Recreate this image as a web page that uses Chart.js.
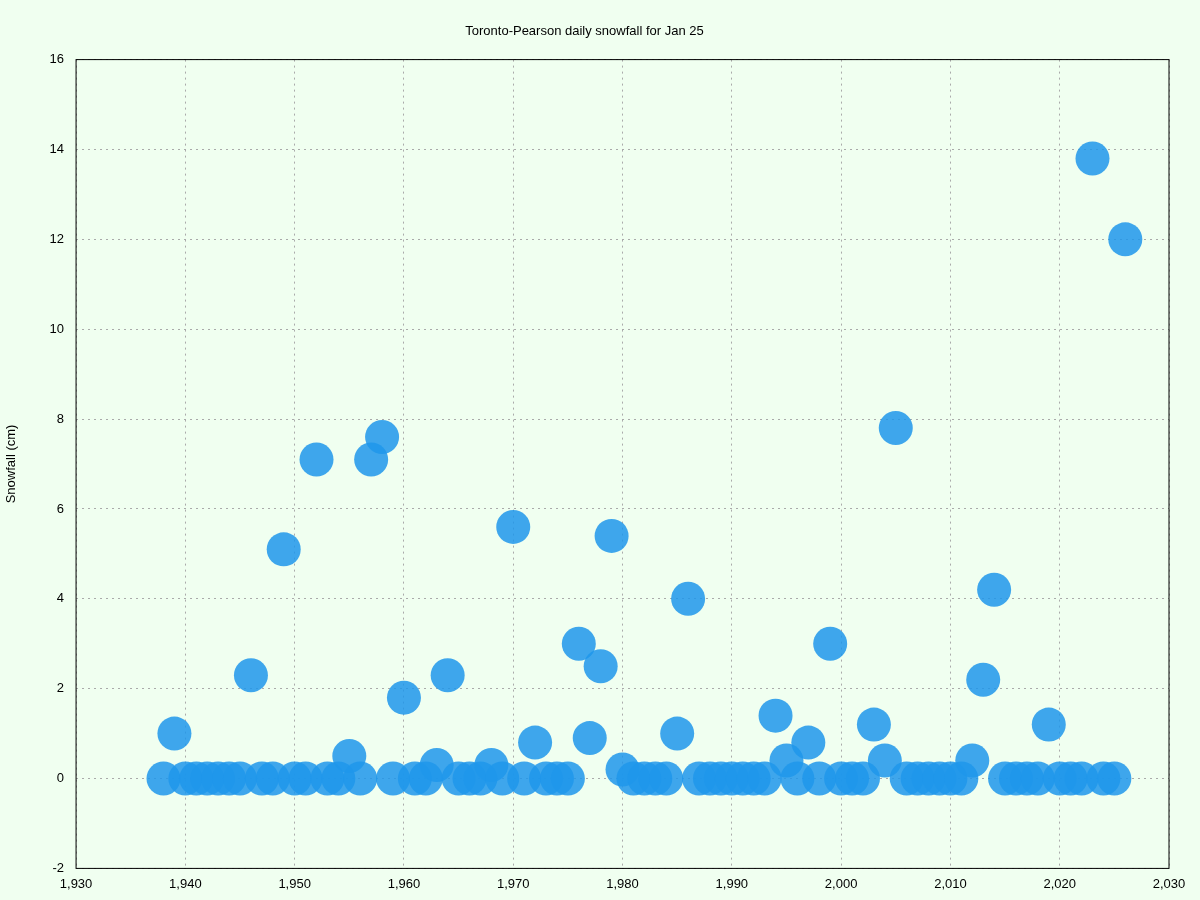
<!DOCTYPE html>
<html><head><meta charset="utf-8">
<script src="https://cdn.jsdelivr.net/npm/chart.js@4/dist/chart.umd.min.js"></script>
<style>html,body{margin:0;padding:0;background:#f0fff0;}#w{width:1200px;height:900px;}</style>
</head><body><div id="w"><canvas id="c"></canvas></div>
<script>
const years = [1938,1939,1940,1941,1942,1943,1944,1945,1946,1947,1948,1949,1950,1951,1952,1953,1954,1955,1956,1957,1958,1959,1960,1961,1962,1963,1964,1965,1966,1967,1968,1969,1970,1971,1972,1973,1974,1975,1976,1977,1978,1979,1980,1981,1982,1983,1984,1985,1986,1987,1988,1989,1990,1991,1992,1993,1994,1995,1996,1997,1998,1999,2000,2001,2002,2003,2004,2005,2006,2007,2008,2009,2010,2011,2012,2013,2014,2015,2016,2017,2018,2019,2020,2021,2022,2023,2024,2025,2026];
const snowfall = [0,1.0,0,0,0,0,0,0,2.3,0,0,5.1,0,0,7.1,0,0,0.5,0,7.1,7.6,0,1.8,0,0,0.3,2.3,0,0,0,0.3,0,5.6,0,0.8,0,0,0,3.0,0.9,2.5,5.4,0.2,0,0,0,0,1.0,4.0,0,0,0,0,0,0,0,1.4,0.4,0,0.8,0,3.0,0,0,0,1.2,0.4,7.8,0,0,0,0,0,0,0.4,2.2,4.2,0,0,0,0,1.2,0,0,0,13.8,0,0,12.0];
const bg = {id:'bg',beforeDraw(c){const x=c.ctx;x.save();x.fillStyle='#f0fff0';x.fillRect(0,0,c.width,c.height);x.restore();},
 afterDraw(c){const a=c.chartArea,x=c.ctx;x.save();x.strokeStyle='#000';x.lineWidth=1;x.strokeRect(a.left,a.top,a.right-a.left,a.bottom-a.top);x.restore();}};
const grid = {color:'#aaaaaa',lineWidth:1,tickLength:0,drawTicks:false};
new Chart(document.getElementById('c'),{
 type:'scatter',
 data:{datasets:[{data:years.map((y,i)=>({x:y,y:snowfall[i]})),backgroundColor:'rgba(30,150,235,0.85)',borderWidth:0,pointRadius:17,pointHoverRadius:17}]},
 options:{responsive:true,maintainAspectRatio:false,animation:false,
  layout:{padding:{top:0,right:31,left:0,bottom:0}},
  plugins:{legend:{display:false},tooltip:{enabled:false},
   title:{display:true,text:'Toronto-Pearson daily snowfall for Jan 25',color:'#000',font:{family:'Liberation Sans, Arial',size:13,weight:'normal'},padding:{top:24,bottom:20}}},
  scales:{
   x:{min:1930,max:2030,ticks:{stepSize:10,color:'#000',font:{family:'Liberation Sans',size:13},padding:8},grid:{...grid},border:{display:false,dash:[2,4]}},
   y:{min:-2,max:16,ticks:{stepSize:2,color:'#000',font:{family:'Liberation Sans',size:13},padding:12},grid:{...grid},border:{display:false,dash:[2,4]},
      title:{display:true,text:'Snowfall (cm)',color:'#000',font:{family:'Liberation Sans',size:13},padding:{bottom:18}}}
  }},
 plugins:[bg]
});
</script></body></html>
